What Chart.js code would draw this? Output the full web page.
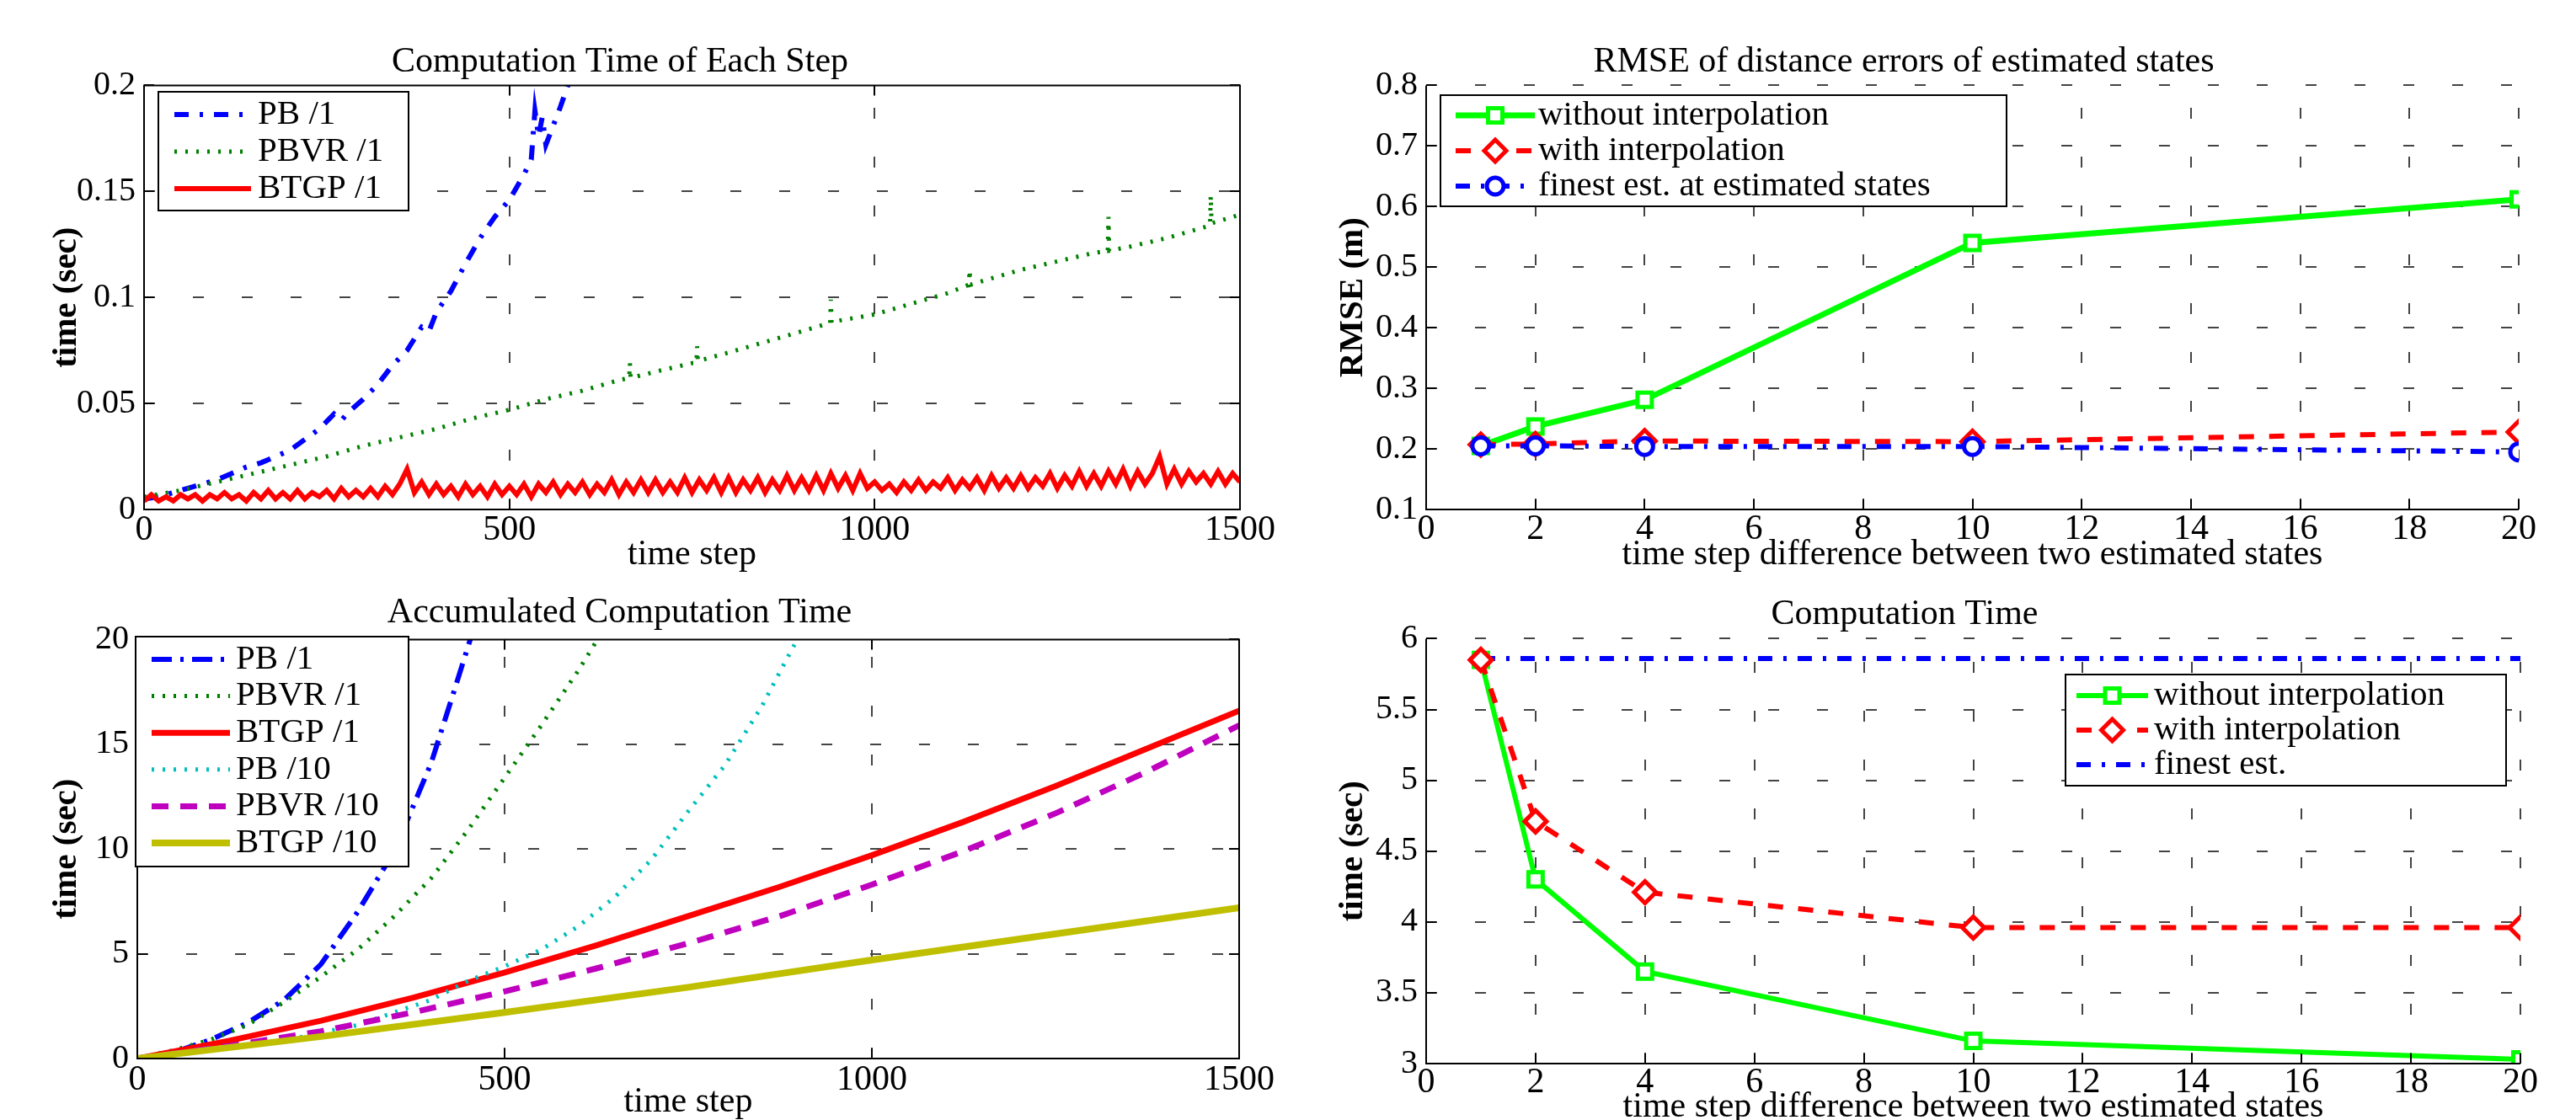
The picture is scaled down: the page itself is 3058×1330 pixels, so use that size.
<!DOCTYPE html>
<html>
<head>
<meta charset="utf-8">
<script src="https://cdn.jsdelivr.net/npm/chart.js@4.4.1/dist/chart.umd.min.js"></script>
<style>
  html, body { margin: 0; padding: 0; background: #fff; }
  #page { position: relative; width: 3058px; height: 1330px; overflow: hidden; background: #fff; }
  canvas { position: absolute; }
</style>
</head>
<body>
<div id="page">
  <canvas id="stepTime" width="1530" height="680" style="left:0;top:0"></canvas>
  <canvas id="rmse" width="1528" height="680" style="left:1530px;top:0"></canvas>
  <canvas id="accTime" width="1530" height="650" style="left:0;top:680px"></canvas>
  <canvas id="compTime" width="1528" height="650" style="left:1530px;top:680px"></canvas>
</div>
<script>
// ---- top left: computation time of each step (sec)
const pbSteps = [0,20,40,60,80,100,120,140,160,180,200,220,240,260,270,280,300,320,340,360,380,390,400,420,440,460,480,500,520,530,535,540,545,550,560,570,580,600];
const pbTimes = [0.005,0.006,0.008,0.010,0.012,0.014,0.017,0.020,0.022,0.025,0.028,0.033,0.038,0.045,0.042,0.046,0.052,0.059,0.068,0.075,0.086,0.084,0.093,0.103,0.116,0.128,0.138,0.146,0.158,0.165,0.188,0.176,0.185,0.172,0.181,0.190,0.200,0.214];

const pbvrSteps = [0,50,100,150,200,250,300,350,400,450,500,550,600,650,664,665,666,700,750,756,757,758,800,850,900,939,940,941,950,1000,1050,1100,1129,1130,1131,1150,1200,1250,1300,1319,1320,1321,1350,1400,1450,1459,1460,1461,1500];
const pbvrTimes = [0.006,0.009,0.013,0.017,0.021,0.025,0.030,0.034,0.038,0.043,0.047,0.052,0.056,0.061,0.062,0.069,0.062,0.065,0.069,0.069,0.077,0.070,0.074,0.079,0.084,0.088,0.099,0.088,0.089,0.092,0.097,0.102,0.106,0.113,0.106,0.108,0.113,0.117,0.121,0.122,0.138,0.122,0.124,0.128,0.133,0.134,0.148,0.135,0.139];

const btgpSteps = [0,10,20,30,40,50,60,70,80,90,100,110,120,130,140,150,160,170,180,190,200,210,220,230,240,250,260,270,280,290,300,310,320,330,340,350,360,370,380,390,400,410,420,430,440,450,460,470,480,490,500,510,520,530,540,550,560,570,580,590,600,610,620,630,640,650,660,670,680,690,700,710,720,730,740,750,760,770,780,790,800,810,820,830,840,850,860,870,880,890,900,910,920,930,940,950,960,970,980,990,1000,1010,1020,1030,1040,1050,1060,1070,1080,1090,1100,1110,1120,1130,1140,1150,1160,1170,1180,1190,1200,1210,1220,1230,1240,1250,1260,1270,1280,1290,1300,1310,1320,1330,1340,1350,1360,1370,1380,1390,1400,1410,1420,1430,1440,1450,1460,1470,1480,1490,1500];
const btgpTimes = [
  0.004,0.007,0.004,0.006,0.004,0.007,0.005,0.007,0.004,0.007,
  0.005,0.008,0.005,0.007,0.004,0.008,0.005,0.009,0.005,0.008,
  0.005,0.009,0.005,0.008,0.006,0.009,0.005,0.010,0.006,0.009,
  0.006,0.010,0.006,0.011,0.007,0.012,0.019,0.008,0.013,0.007,
  0.012,0.007,0.011,0.006,0.012,0.007,0.011,0.006,0.012,0.007,
  0.011,0.007,0.012,0.006,0.012,0.008,0.013,0.007,0.012,0.008,
  0.013,0.007,0.012,0.008,0.014,0.007,0.013,0.008,0.014,0.008,
  0.014,0.008,0.013,0.008,0.015,0.008,0.014,0.009,0.015,0.008,
  0.015,0.008,0.014,0.009,0.015,0.008,0.014,0.009,0.016,0.009,
  0.015,0.009,0.016,0.009,0.017,0.010,0.016,0.009,0.017,0.010,
  0.013,0.009,0.012,0.008,0.013,0.009,0.014,0.009,0.013,0.010,
  0.015,0.009,0.014,0.010,0.015,0.009,0.016,0.010,0.015,0.010,
  0.016,0.010,0.015,0.011,0.017,0.010,0.016,0.011,0.018,0.011,
  0.017,0.011,0.018,0.012,0.019,0.011,0.018,0.012,0.017,0.025,
  0.012,0.019,0.012,0.018,0.013,0.017,0.012,0.018,0.012,0.017,
  0.013
];

// ---- bottom left: accumulated computation time (sec)
const accPb1Steps = [0,50,100,150,200,250,300,350,400,430,455,470];
const accPb1 = [0,0.3,0.9,1.7,2.8,4.5,7.0,9.9,14.1,17.4,20.2,22.0];
const accPbvr1Steps = [0,50,100,150,200,250,300,350,400,450,500,550,600,630,650];
const accPbvr1 = [0,0.4,0.9,1.6,2.7,3.9,5.2,6.8,8.6,10.9,13.4,15.9,18.5,20.2,21.4];
const accBtgp1Steps = [0,125,250,375,500,625,750,875,1000,1125,1250,1375,1500];
const accBtgp1 = [0,0.85,1.8,2.9,4.1,5.4,6.8,8.2,9.7,11.3,13.0,14.8,16.6];
const accPb10Steps = [0,100,200,300,400,450,500,550,600,650,700,750,800,850,880,900,920];
const accPb10 = [0,0.4,0.85,1.6,2.8,3.7,4.4,5.2,6.3,7.7,9.5,11.8,14.0,16.8,18.8,20.1,21.5];
const accPbvr10Steps = [0,125,250,375,500,625,750,875,1000,1125,1250,1375,1500];
const accPbvr10 = [0,0.6,1.3,2.2,3.2,4.3,5.5,6.8,8.3,9.9,11.7,13.7,15.9];
const accBtgp10Steps = [0,250,500,750,1000,1250,1500];
const accBtgp10 = [0,1.05,2.2,3.4,4.7,5.95,7.2];

// ---- right column: x = time step difference between two estimated states
const stepGap = [1,2,4,10,20];
const rmseNoInterp = [0.205,0.237,0.281,0.540,0.612];
const rmseInterp = [0.207,0.208,0.213,0.212,0.228];
const rmseFinest = [0.205,0.205,0.204,0.204,0.195];
const timeNoInterp = [5.85,4.30,3.65,3.16,3.03];
const timeInterp = [5.85,4.71,4.21,3.96,3.96];
const timeFinest = [5.86,5.86,5.86,5.86,5.86];

const SERIF = '"Liberation Serif", "Times New Roman", serif';
Chart.defaults.color = '#000';
Chart.defaults.font.family = SERIF;

const DASH_DOT = [17, 13, 4, 13];
const DOTTED = [3, 10];
const DASHED = [18, 18];

const pts = (xs, ys) => xs.map((x, i) => ({ x: x, y: ys[i] }));
const fmt = v => String(Math.round(v * 1000) / 1000);

// matlab style axes: dashed grid, inward ticks, optional full box
const axesBox = {
  id: 'axesBox',
  beforeDatasetsDraw(chart, args, opts) {
    const { ctx, chartArea: a, scales: { x, y } } = chart;
    ctx.save();
    ctx.strokeStyle = '#444';
    ctx.lineWidth = 2;
    ctx.setLineDash([13, 45]);
    ctx.beginPath();
    x.ticks.forEach(t => {
      const px = Math.round(x.getPixelForValue(t.value));
      if (px <= a.left + 2 || (opts.box && px >= a.right - 2)) return;
      ctx.moveTo(px, a.bottom);
      ctx.lineTo(px, a.top);
    });
    y.ticks.forEach(t => {
      const py = Math.round(y.getPixelForValue(t.value));
      if (py >= a.bottom - 2 || (opts.box && py <= a.top + 2)) return;
      ctx.moveTo(a.left, py);
      ctx.lineTo(a.right, py);
    });
    ctx.stroke();
    ctx.restore();
  },
  afterDatasetsDraw(chart, args, opts) {
    const { ctx, chartArea: a, scales: { x, y } } = chart;
    const tl = 12;
    ctx.save();
    ctx.strokeStyle = '#000';
    ctx.lineWidth = 2;
    ctx.setLineDash([]);
    ctx.beginPath();
    ctx.moveTo(a.left, a.top);
    ctx.lineTo(a.left, a.bottom);
    ctx.lineTo(a.right, a.bottom);
    if (opts.box) {
      ctx.lineTo(a.right, a.top);
      ctx.closePath();
    }
    x.ticks.forEach(t => {
      const px = Math.round(x.getPixelForValue(t.value));
      ctx.moveTo(px, a.bottom);
      ctx.lineTo(px, a.bottom - tl);
      if (opts.box) {
        ctx.moveTo(px, a.top);
        ctx.lineTo(px, a.top + tl);
      }
    });
    y.ticks.forEach(t => {
      const py = Math.round(y.getPixelForValue(t.value));
      ctx.moveTo(a.left, py);
      ctx.lineTo(a.left + tl, py);
      if (opts.box) {
        ctx.moveTo(a.right, py);
        ctx.lineTo(a.right - tl, py);
      }
    });
    ctx.stroke();
    ctx.restore();
  }
};

function drawMarker(ctx, style, x, y, r, color, bw) {
  ctx.save();
  ctx.setLineDash([]);
  ctx.lineWidth = bw;
  ctx.strokeStyle = color;
  ctx.fillStyle = '#fff';
  ctx.beginPath();
  if (style === 'rect') {
    const s = r * Math.SQRT1_2;
    ctx.rect(x - s, y - s, 2 * s, 2 * s);
  } else if (style === 'rectRot') {
    ctx.moveTo(x - r, y);
    ctx.lineTo(x, y - r);
    ctx.lineTo(x + r, y);
    ctx.lineTo(x, y + r);
    ctx.closePath();
  } else {
    ctx.arc(x, y, r, 0, Math.PI * 2);
  }
  ctx.fill();
  ctx.stroke();
  ctx.restore();
}

// legend box drawn inside the plot like matlab does
const boxLegend = {
  id: 'boxLegend',
  afterDraw(chart, args, o) {
    const ctx = chart.ctx;
    ctx.save();
    ctx.setLineDash([]);
    ctx.fillStyle = '#fff';
    ctx.fillRect(o.left, o.top, o.width, o.height);
    ctx.lineWidth = 2;
    ctx.strokeStyle = '#000';
    ctx.strokeRect(o.left, o.top, o.width, o.height);
    ctx.font = '41px ' + SERIF;
    ctx.textBaseline = 'middle';
    chart.data.datasets.forEach((ds, i) => {
      const cy = o.firstRow + i * o.rowGap;
      ctx.save();
      ctx.strokeStyle = ds.borderColor;
      ctx.lineWidth = ds.borderWidth;
      ctx.setLineDash(ds.borderDash || []);
      ctx.beginPath();
      ctx.moveTo(o.lineStart, cy);
      ctx.lineTo(o.lineEnd, cy);
      ctx.stroke();
      ctx.restore();
      if (ds.pointRadius) {
        drawMarker(ctx, ds.pointStyle, (o.lineStart + o.lineEnd) / 2, cy, ds.pointRadius, ds.borderColor, ds.pointBorderWidth);
      }
      ctx.fillStyle = '#000';
      ctx.fillText(ds.label, o.textStart, cy);
    });
    ctx.restore();
  }
};

function panelOptions(p) {
  return {
    responsive: false,
    animation: false,
    devicePixelRatio: 1,
    events: [],
    layout: { padding: { left: 0, right: p.padRight, top: 0, bottom: 0 } },
    elements: { line: { tension: 0 }, point: { radius: 0 } },
    plugins: {
      legend: { display: false },
      tooltip: { enabled: false },
      title: {
        display: true, text: p.title, color: '#000',
        font: { family: SERIF, size: 42, weight: 'normal', lineHeight: 1.2 },
        padding: { top: p.titleTop, bottom: p.titleBottom }
      },
      axesBox: { box: p.box },
      boxLegend: p.legend
    },
    scales: {
      x: {
        type: 'linear', min: p.xMin, max: p.xMax,
        grid: { display: false, drawTicks: false },
        border: { display: false },
        ticks: {
          stepSize: p.xStep, autoSkip: false, maxRotation: 0, padding: p.xTickPad,
          color: '#000', font: { family: SERIF, size: 42, lineHeight: 1 }, callback: fmt
        },
        title: {
          display: true, text: p.xTitle, color: '#000',
          font: { family: SERIF, size: 42, lineHeight: 1 },
          padding: { top: 0, bottom: p.xTitlePad }
        },
        afterFit: s => { s.height = p.xHeight; }
      },
      y: {
        type: 'linear', min: p.yMin, max: p.yMax,
        grid: { display: false, drawTicks: false },
        border: { display: false },
        ticks: {
          stepSize: p.yStep, autoSkip: false, padding: 10,
          color: '#000', font: { family: SERIF, size: 40, lineHeight: 1 }, callback: fmt
        },
        title: {
          display: true, text: p.yTitle, color: '#000',
          font: { family: SERIF, size: 41, weight: 'bold', lineHeight: 1 },
          padding: { top: p.yTitlePad, bottom: 0 }
        },
        afterFit: s => { s.width = p.yWidth; }
      }
    }
  };
}

// top left
new Chart(document.getElementById('stepTime'), {
  type: 'line',
  data: {
    datasets: [
      { label: 'PB /1', data: pts(pbSteps, pbTimes), borderColor: '#0000ff', borderWidth: 6, borderDash: DASH_DOT, order: 2 },
      { label: 'PBVR /1', data: pts(pbvrSteps, pbvrTimes), borderColor: '#008000', borderWidth: 5, borderDash: DOTTED, order: 1 },
      { label: 'BTGP /1', data: pts(btgpSteps, btgpTimes), borderColor: '#ff0000', borderWidth: 6, order: 0 }
    ]
  },
  options: panelOptions({
    title: 'Computation Time of Each Step', titleTop: 49, titleBottom: 2,
    padRight: 58, yWidth: 171, xHeight: 75, xTickPad: 4, xTitlePad: 0, yTitlePad: 59, box: true,
    xMin: 0, xMax: 1500, xStep: 500, xTitle: 'time step',
    yMin: 0, yMax: 0.2, yStep: 0.05, yTitle: 'time (sec)',
    legend: { left: 188, top: 109, width: 297, height: 141, firstRow: 136, rowGap: 44, lineStart: 207, lineEnd: 298, textStart: 306 }
  }),
  plugins: [axesBox, boxLegend]
});

// bottom left
new Chart(document.getElementById('accTime'), {
  type: 'line',
  data: {
    datasets: [
      { label: 'PB /1', data: pts(accPb1Steps, accPb1), borderColor: '#0000ff', borderWidth: 6, borderDash: [24, 10, 4, 10], order: 5 },
      { label: 'PBVR /1', data: pts(accPbvr1Steps, accPbvr1), borderColor: '#008000', borderWidth: 5, borderDash: DOTTED, order: 4 },
      { label: 'BTGP /1', data: pts(accBtgp1Steps, accBtgp1), borderColor: '#ff0000', borderWidth: 7, order: 3 },
      { label: 'PB /10', data: pts(accPb10Steps, accPb10), borderColor: '#00bfbf', borderWidth: 5, borderDash: DOTTED, order: 2 },
      { label: 'PBVR /10', data: pts(accPbvr10Steps, accPbvr10), borderColor: '#bf00bf', borderWidth: 7, borderDash: [20, 14], order: 1 },
      { label: 'BTGP /10', data: pts(accBtgp10Steps, accBtgp10), borderColor: '#bfbf00', borderWidth: 8, order: 0 }
    ]
  },
  options: panelOptions({
    title: 'Accumulated Computation Time', titleTop: 23, titleBottom: 6,
    padRight: 59, yWidth: 163, xHeight: 73, xTickPad: 5, xTitlePad: 0, yTitlePad: 59, box: true,
    xMin: 0, xMax: 1500, xStep: 500, xTitle: 'time step',
    yMin: 0, yMax: 20, yStep: 5, yTitle: 'time (sec)',
    legend: { left: 161, top: 76, width: 324, height: 273, firstRow: 103, rowGap: 43.6, lineStart: 180, lineEnd: 273, textStart: 280 }
  }),
  plugins: [axesBox, boxLegend]
});

// top right
new Chart(document.getElementById('rmse'), {
  type: 'line',
  data: {
    datasets: [
      { label: 'without interpolation', data: pts(stepGap, rmseNoInterp), borderColor: '#00ff00', borderWidth: 7,
        pointStyle: 'rect', pointRadius: 12, pointBorderWidth: 5, pointBorderColor: '#00ff00', pointBackgroundColor: '#fff', order: 2 },
      { label: 'with interpolation', data: pts(stepGap, rmseInterp), borderColor: '#ff0000', borderWidth: 6, borderDash: DASHED,
        pointStyle: 'rectRot', pointRadius: 13, pointBorderWidth: 5, pointBorderColor: '#ff0000', pointBackgroundColor: '#fff', order: 1 },
      { label: 'finest est. at estimated states', data: pts(stepGap, rmseFinest), borderColor: '#0000ff', borderWidth: 6, borderDash: DASH_DOT,
        pointStyle: 'circle', pointRadius: 10, pointBorderWidth: 5, pointBorderColor: '#0000ff', pointBackgroundColor: '#fff', order: 0 }
    ]
  },
  options: panelOptions({
    title: 'RMSE of distance errors of estimated states', titleTop: 49, titleBottom: 2,
    padRight: 68, yWidth: 163, xHeight: 75, xTickPad: 3, xTitlePad: 0, yTitlePad: 56, box: false,
    xMin: 0, xMax: 20, xStep: 2, xTitle: 'time step difference between two estimated states',
    yMin: 0.1, yMax: 0.8, yStep: 0.1, yTitle: 'RMSE (m)',
    legend: { left: 180, top: 113, width: 672, height: 132, firstRow: 137, rowGap: 42, lineStart: 198, lineEnd: 292, textStart: 296 }
  }),
  plugins: [axesBox, boxLegend]
});

// bottom right
new Chart(document.getElementById('compTime'), {
  type: 'line',
  data: {
    datasets: [
      { label: 'without interpolation', data: pts(stepGap, timeNoInterp), borderColor: '#00ff00', borderWidth: 6,
        pointStyle: 'rect', pointRadius: 12, pointBorderWidth: 5, pointBorderColor: '#00ff00', pointBackgroundColor: '#fff', order: 2 },
      { label: 'with interpolation', data: pts(stepGap, timeInterp), borderColor: '#ff0000', borderWidth: 6, borderDash: DASHED,
        pointStyle: 'rectRot', pointRadius: 13, pointBorderWidth: 5, pointBorderColor: '#ff0000', pointBackgroundColor: '#fff', order: 1 },
      { label: 'finest est.', data: pts(stepGap, timeFinest), borderColor: '#0000ff', borderWidth: 6, borderDash: DASH_DOT,
        pointRadius: 0, order: 3 }
    ]
  },
  options: panelOptions({
    title: 'Computation Time', titleTop: 25, titleBottom: 3,
    padRight: 66, yWidth: 163, xHeight: 67, xTickPad: 2, xTitlePad: -6, yTitlePad: 56, box: false,
    xMin: 0, xMax: 20, xStep: 2, xTitle: 'time step difference between two estimated states',
    yMin: 3, yMax: 6, yStep: 0.5, yTitle: 'time (sec)',
    legend: { left: 922, top: 121, width: 523, height: 132, firstRow: 146, rowGap: 41, lineStart: 935, lineEnd: 1020, textStart: 1027 }
  }),
  plugins: [axesBox, boxLegend]
});
</script>
</body>
</html>
